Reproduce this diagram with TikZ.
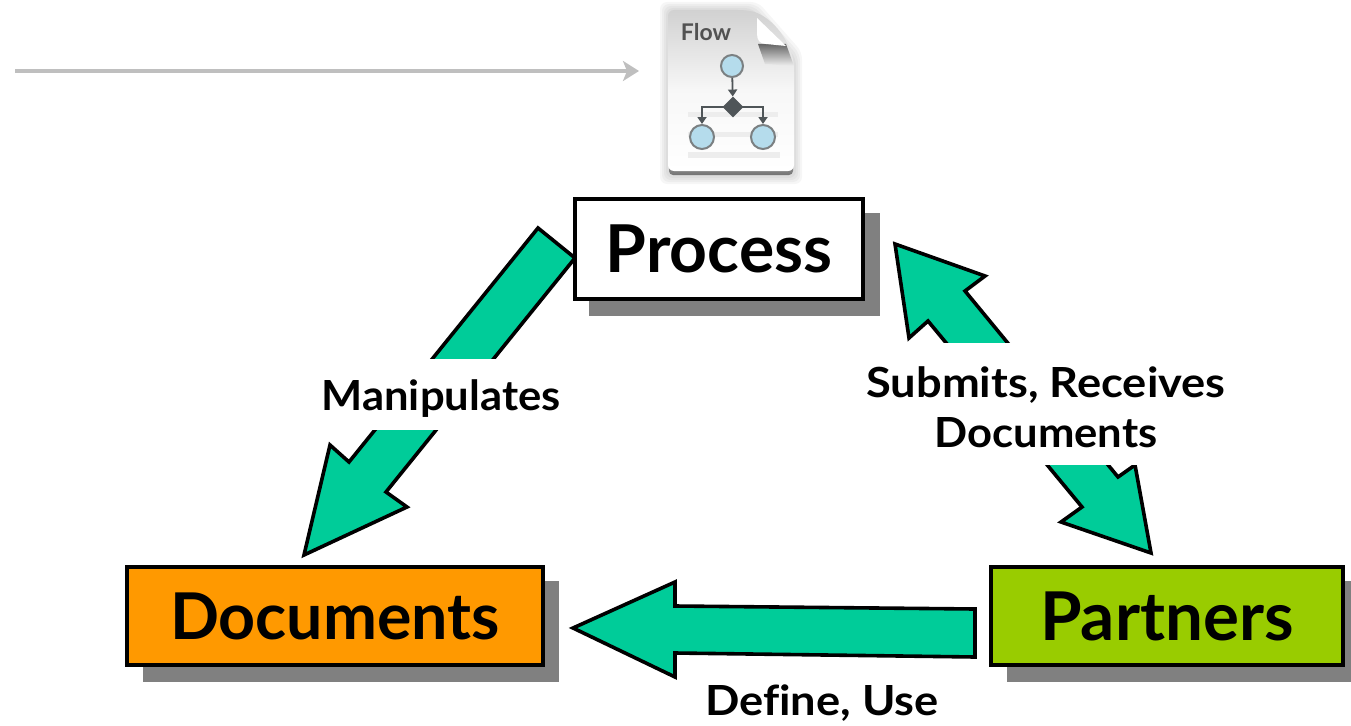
\documentclass[tikz,border=0pt]{standalone}
\usepackage{fontspec}
\setmainfont{Lato}
\newfontfamily\lblA{Lato}[FakeStretch=1.05]
\newfontfamily\lblB{Lato}[FakeStretch=1.09]
\usetikzlibrary{arrows.meta,calc,shapes.geometric}
\definecolor{teal1}{HTML}{00CC99}
\definecolor{orangeb}{HTML}{FF9900}
\definecolor{greenb}{HTML}{99CC00}
\definecolor{shad}{HTML}{808080}
\definecolor{iconblue}{HTML}{B5DCEC}
\definecolor{icondark}{HTML}{4F5558}
\tikzset{
  box/.style={draw=black,line width=3.4pt,outer sep=0pt,anchor=north west,inner sep=0pt,font=\bfseries\fontsize{66}{66}\selectfont},
  shadowbox/.style={fill=shad,draw=none},
  bigarrow/.style={draw=black,fill=teal1,line width=3.6pt,miter limit=10},
  lbl/.style={fill=white,inner sep=0pt,align=center,text=black},
  iconnode/.style={circle,draw=icondark!75,fill=iconblue,line width=2pt,minimum size=22pt,inner sep=0pt},
  iconline/.style={draw=icondark,line width=1.8pt,-{Triangle[length=7pt,width=9pt]}},
}
\begin{document}
\begin{tikzpicture}[x=1pt,y=-1pt]
\useasboundingbox (0,0) rectangle (1351,725);
% top arrow
\coordinate (arrowstart) at (15,71);
\coordinate (arrowend) at (639,71);
\draw[draw=black!25,line width=4.5pt,-{Stealth[length=16pt,width=20pt,inset=4pt]}] (arrowstart) -- (arrowend);
% icon: soft halo
\foreach \g in {8,6,4,2}{
  \fill[black,opacity=0.035,rounded corners=7pt] (668-\g,10-\g) -- (668-\g,176+\g) -- (794+\g,176+\g) -- (794+\g,60-\g) -- (750+\g,10-\g) -- cycle;
}
\shade[top color=black!35,bottom color=black!55,rounded corners=4pt] (669,160) rectangle (793,175);
\shade[top color=black!18,bottom color=white,middle color=black!3,rounded corners=6pt] (668,10) -- (668,171) -- (794,171) -- (794,66) .. controls (790,40) and (770,14) .. (744,10) -- cycle;
\fill[black!7] (688,112) rectangle (778,117);
\fill[black!7] (688,132) rectangle (778,137);
\fill[black!7] (688,152) rectangle (780,158);
% dog ear
\shade[top color=black!60,bottom color=black!6] (758,44) -- (786,44) -- (794,66) -- (765,64) -- cycle;
\fill[white] (757,18) -- (786,46) -- (766,44) .. controls (760,44) and (757,40) .. (757,34) -- cycle;
\node[font=\bfseries\fontsize{23}{23}\selectfont,text=black!68,inner sep=0pt] (flowlabel) at (706,32) {Flow};
\node[iconnode] (n1) at (732,66) {};
\node[diamond,aspect=1,fill=icondark,inner sep=0pt,minimum size=21pt] (nd) at (733,107) {};
\node[iconnode,minimum size=24pt] (n2) at (702,137) {};
\node[iconnode,minimum size=24pt] (n3) at (763,137) {};
\draw[iconline] (n1) -- (nd);
\draw[iconline] (nd.center) -| (n2.north);
\draw[iconline] (nd.center) -| (n3.north);
% arrows
\coordinate (a1) at (538,228);
\draw[bigarrow] (a1) -- (575,258) -- (386,492) -- (407,507) -- (304,555) -- (330,445) -- (349,462) -- cycle;
\draw[bigarrow] (895,244) -- (985,276) -- (965,291) -- (1118,477) -- (1135,465) -- (1151,553) -- (1061,522) -- (1082,507) -- (928,321) -- (909,338) -- cycle;
\draw[bigarrow] (573,628) -- (675,582) -- (675,606) -- (975,609) -- (975,657) -- (675,653) -- (675,677) -- cycle;
% boxes
\fill[shadowbox] (589,213) rectangle (880,316);
\fill[shadowbox] (143,581) rectangle (559,682);
\fill[shadowbox] (1007,581) rectangle (1351,682);
\node[box,fill=white,minimum width=288pt,minimum height=100pt] (process) at (575,199) {\raisebox{-3pt}{Process}};
\node[box,fill=orangeb,minimum width=416pt,minimum height=98pt] (documents) at (127,567) {\raisebox{-5pt}{\fontsize{64.5}{66}\selectfont Documents}};
\node[box,fill=greenb,minimum width=352pt,minimum height=98pt] (partners) at (991,567) {\raisebox{-5pt}{\fontsize{67.3}{66}\selectfont Partners}};
% labels
\fill[white] (300,359) rectangle (580,430);
\fill[white] (850,343) rectangle (1240,465);
\node[lbl,font=\lblA\bfseries\fontsize{41.5}{50}\selectfont] (manip) at (441,399) {Manipulates};
\node[lbl,font=\bfseries\fontsize{41.5}{50}\selectfont] (submits) at (1046,407) {{\lblB Submits, Receives}\\{\lblA Documents}};
\node[lbl,font=\lblB\bfseries\fontsize{41.5}{50}\selectfont] (define) at (822,703) {Def\kern0pt ine, Use};
\end{tikzpicture}
\end{document}
